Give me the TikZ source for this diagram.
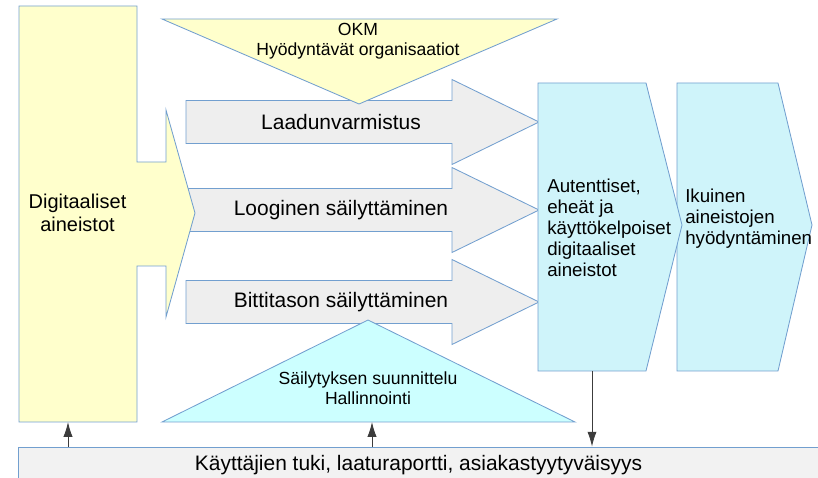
\documentclass[tikz,border=0pt]{standalone}
\usepackage{fontspec}
\setmainfont{Liberation Sans}
\usepackage{xcolor}
\usetikzlibrary{arrows.meta}
\definecolor{paleyellow}{HTML}{FFFFCC}
\definecolor{palecyan}{HTML}{CFF4FA}
\definecolor{brightcyan}{HTML}{CCFFFF}
\definecolor{arrowgray}{HTML}{EEEEEE}
\definecolor{bargray}{HTML}{F2F2F2}
\definecolor{edgeblue}{HTML}{729FCF}
\definecolor{linkgray}{HTML}{3C3C3C}
\tikzset{>={Latex[length=10.5pt,width=6.5pt]}}
\tikzset{
  edge/.style={draw=edgeblue, line width=0.6pt, line join=miter},
  link/.style={->, draw=linkgray, line width=0.6pt},
  bigtext/.style={font=\fontsize{14.9}{17}\selectfont, align=center, inner sep=0pt},
  midtext/.style={font=\fontsize{13.3}{14.9}\selectfont, align=left, inner sep=0pt, anchor=west},
  smalltext/.style={font=\fontsize{12.5}{13.9}\selectfont, align=center, inner sep=0pt},
}

\begin{document}
\begin{tikzpicture}[x=0.025cm, y=-0.025cm]

    \useasboundingbox (0,0) rectangle (818,478);
    \clip (0,0) rectangle (818,478);

    % Gray process arrows
    \foreach \y/\txt/\name in {122/Laadunvarmistus/laatu, 210/Looginen säilyttäminen/looginen, 302/Bittitason säilyttäminen/bitti}{
        \draw[edge, fill=arrowgray] (186,\y-21.5) -- (452,\y-21.5) -- (452,\y-42.5) -- (539,\y) -- (452,\y+42.5) -- (452,\y+21.5) -- (186,\y+21.5) -- cycle;
        \node[bigtext] (\name) at (341,\y) {\txt};
    }

    % Digital material, left shape
    \draw[edge, fill=paleyellow] (19,6) -- (137,6) -- (137,162) -- (166,162) -- (166,110) -- (195,213) -- (166,317) -- (166,266) -- (137,266) -- (137,422) -- (19,422) -- cycle;
    \node[bigtext, font=\fontsize{14.2}{16.4}\selectfont] (digi) at (77.5,213) {Digitaaliset\\aineistot};
    \coordinate (digibot) at (68,422);

    % Triangles above and below
    \draw[edge, fill=paleyellow] (162,19) -- (557,19) -- (359,104) -- cycle;
    \node[smalltext] (okm) at (358,41) {OKM\\Hyödyntävät organisaatiot};
    \draw[edge, fill=brightcyan] (368,320) -- (575,422) -- (162,422) -- cycle;
    \node[smalltext] (hallinto) at (368,388) {Säilytyksen suunnittelu\\Hallinnointi};
    \coordinate (tribot) at (372,422);

    % Result chevrons
    \draw[edge, fill=palecyan] (677,83) -- (778,83) -- (812,225) -- (778,371) -- (677,371) -- cycle;
    \node[midtext] (ikuinen) at (685,219) {Ikuinen\\aineistojen\\hyödyntäminen};
    \draw[edge, fill=palecyan] (538,83) -- (646,83) -- (682,225) -- (646,371) -- (538,371) -- cycle;
    \node[midtext] (autent) at (547,228) {Autenttiset,\\eheät ja\\käyttökelpoiset\\digitaaliset\\aineistot};
    \coordinate (autentbot) at (592,371);

    % Support bar
    \node[edge, fill=bargray, bigtext, minimum width=20cm, minimum height=0.9cm] (tuki) at (418.5,465) {Käyttäjien tuki, laaturaportti, asiakastyytyväisyys};

    % Feedback arrows
    \draw[link] (tuki.north -| digibot) -- (digibot);
    \draw[link] (tuki.north -| tribot) -- (tribot);
    \draw[link] (autentbot) -- (autentbot |- tuki.north);

\end{tikzpicture}
\end{document}
